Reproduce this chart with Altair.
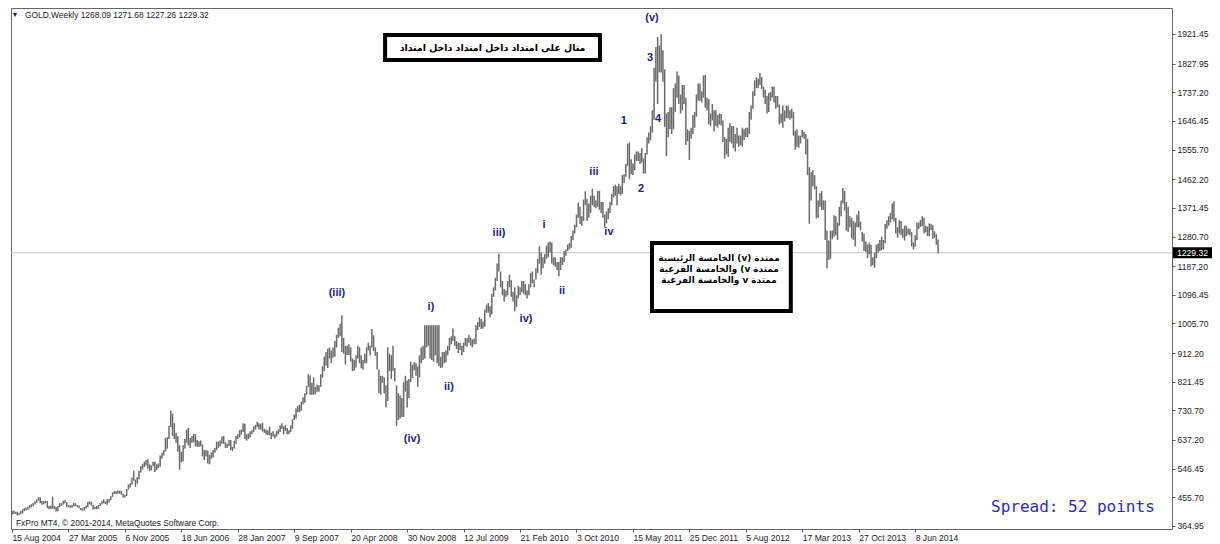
import altair as alt
import pandas as pd

# ---------------- data ----------------
X_LABELS = ["15 Aug 2004", "27 Mar 2005", "6 Nov 2005", "18 Jun 2006", "28 Jan 2007",
            "9 Sep 2007", "20 Apr 2008", "30 Nov 2008", "12 Jul 2009", "21 Feb 2010",
            "3 Oct 2010", "15 May 2011", "25 Dec 2011", "5 Aug 2012", "17 Mar 2013",
            "27 Oct 2013", "8 Jun 2014"]
X_TICK_WEEKS = [32 * i for i in range(len(X_LABELS))]

Y_TICKS = [364.95, 455.70, 546.45, 637.20, 730.70, 821.45, 912.20, 1005.70, 1096.45,
           1187.20, 1280.70, 1371.45, 1462.20, 1555.70, 1646.45, 1737.20, 1827.95, 1921.45]

H_2004 = [412,414,410,410,407,412,418,421,423,426,431,434,438,443,449,456,456,444,443,445]
L_2004 = [400,403,404,398,400,403,405,412,414,416,421,424,428,433,438,445,437,432,434,437]

H_2005 = [444,428,430,458,428,425,428,438,437,445,446,441,431,430,431,438,437,431,430,422,
          421,425,430,442,443,441,431,426,428,431,437,443,449,443,450,451,459,471,475,475,
          477,477,477,467,464,482,496,500,518,540,512,520]
L_2005 = [422,418,419,420,418,411,412,425,429,433,437,425,424,423,423,427,428,425,421,415,
          414,414,420,424,434,429,417,418,418,419,428,433,437,434,432,439,446,457,466,465,
          467,467,464,455,455,460,480,487,495,508,489,499]

H_2006 = [540,555,561,568,574,576,560,557,568,568,560,563,588,597,605,643,646,682,730,720,
          690,660,650,620,600,620,640,670,675,643,650,656,655,637,633,635,622,605,605,603,
          590,598,605,612,632,632,635,648,650,630,625,637,637]
L_2006 = [513,534,544,551,556,546,538,541,554,536,542,548,553,578,588,600,609,640,678,650,
          640,628,600,543,566,570,610,628,620,612,628,630,617,616,615,617,585,573,585,563,
          560,578,582,597,605,612,617,625,625,612,612,618,605]

H_2007 = [615,635,650,655,668,670,690,688,655,658,665,668,680,685,695,690,687,692,672,670,
          668,680,660,665,655,665,670,683,690,680,685,675,668,683,702,718,737,745,748,758,
          772,785,808,845,842,818,835,805,812,810,845,870]
L_2007 = [602,610,625,640,645,654,662,640,635,640,645,655,662,670,678,670,670,664,660,654,
          652,652,640,648,642,648,655,662,672,655,666,655,655,662,672,700,705,725,725,730,
          750,755,780,805,780,780,780,782,790,790,805,834]

H_2008 = [900,915,926,930,920,930,950,970,992,1005,1032,960,935,935,940,930,895,890,905,935,
          930,905,890,910,930,945,935,988,968,930,915,860,840,840,835,810,930,910,905,935,
          865,810,785,778,770,820,840,825,830,885,875,884]
L_2008 = [855,872,865,895,880,897,900,930,960,965,915,910,876,906,906,885,855,857,866,895,
          880,864,860,880,880,920,905,930,918,903,860,786,780,818,785,740,760,855,830,855,
          822,681,700,705,710,710,790,740,770,820,833,858]

H_2009 = [880,870,905,930,935,1000,1000,1000,1000,1000,1000,1000,1000,1000,900,915,915,920,
          935,960,965,990,965,950,945,945,935,945,960,960,970,960,955,958,1000,1010,1025,
          1020,1012,1050,1065,1070,1060,1100,1120,1150,1195,1226,1170,1140,1115,1110]
L_2009 = [840,805,835,880,890,895,930,935,895,890,885,905,880,870,865,866,880,883,905,920,
          940,950,935,925,912,922,905,915,935,932,945,935,930,940,940,985,995,988,990,995,
          1040,1040,1025,1035,1090,1110,1140,1170,1120,1095,1075,1090]

H_2010 = [1140,1160,1142,1105,1120,1095,1125,1120,1140,1140,1130,1110,1130,1165,1170,1145,
          1180,1210,1250,1230,1215,1225,1252,1262,1265,1262,1215,1215,1200,1200,1215,1215,
          1235,1240,1255,1260,1282,1300,1318,1350,1388,1375,1345,1398,1424,1400,1385,1410,
          1432,1410,1395,1425]
L_2010 = [1095,1120,1090,1075,1044,1058,1085,1095,1105,1100,1095,1085,1095,1120,1133,1120,
          1145,1165,1195,1160,1180,1195,1210,1215,1230,1195,1190,1185,1175,1155,1175,1190,
          1200,1220,1235,1240,1245,1270,1290,1310,1340,1320,1315,1330,1380,1330,1340,1355,
          1380,1375,1370,1375]

H_2011 = [1425,1390,1390,1350,1360,1370,1390,1415,1440,1445,1440,1448,1440,1475,1478,1510,
          1575,1578,1525,1512,1540,1550,1550,1545,1560,1528,1545,1595,1610,1630,1680,1815,
          1880,1912,1885,1921,1870,1810,1670,1675,1690,1690,1750,1765,1803,1790,1730,1760,
          1760,1720,1620,1615]
L_2011 = [1365,1355,1340,1310,1322,1335,1355,1380,1405,1410,1380,1415,1410,1415,1450,1470,
          1505,1462,1478,1475,1490,1520,1520,1510,1515,1480,1480,1540,1575,1585,1610,1650,
          1770,1700,1800,1800,1770,1628,1535,1595,1620,1605,1620,1675,1720,1700,1670,1680,
          1700,1570,1582,1523]

H_2012 = [1625,1665,1675,1730,1765,1765,1740,1790,1792,1720,1715,1670,1700,1680,1680,1665,
          1670,1668,1648,1595,1590,1625,1640,1630,1630,1605,1625,1600,1600,1625,1620,1625,
          1625,1675,1695,1740,1775,1785,1780,1798,1785,1755,1745,1725,1735,1738,1755,1755,
          1725,1725,1698,1670,1695]
L_2012 = [1590,1605,1625,1660,1710,1710,1705,1720,1688,1680,1635,1630,1648,1613,1630,1625,
          1635,1632,1580,1527,1540,1532,1580,1575,1560,1550,1575,1565,1570,1565,1585,1595,
          1595,1605,1650,1685,1725,1750,1750,1760,1748,1720,1700,1670,1675,1710,1720,1705,
          1685,1690,1635,1640,1625]

H_2013 = [1680,1695,1695,1680,1685,1675,1615,1620,1600,1600,1618,1612,1605,1590,1500,1485,
          1490,1475,1440,1395,1418,1425,1395,1395,1300,1268,1300,1300,1348,1345,1325,1375,
          1395,1434,1425,1390,1375,1345,1340,1330,1325,1350,1362,1328,1295,1290,1264,1255,
          1261,1255,1215,1230]
L_2013 = [1645,1655,1655,1650,1655,1600,1555,1565,1562,1575,1595,1590,1540,1475,1321,1395,
          1440,1430,1338,1340,1375,1365,1365,1270,1180,1207,1210,1272,1280,1285,1270,1315,
          1345,1385,1363,1300,1295,1310,1275,1270,1250,1310,1310,1300,1265,1235,1232,1212,
          1225,1187,1190,1182]

H_2014 = [1255,1259,1270,1280,1270,1320,1332,1345,1355,1385,1392,1340,1310,1332,1330,1305,
          1315,1315,1306,1305,1295,1262,1285,1325,1325,1333,1345,1340,1315,1312,1322,1320,
          1316,1297,1288,1271.68]
L_2014 = [1212,1230,1235,1238,1240,1260,1305,1315,1325,1335,1328,1290,1277,1290,1285,1277,
          1268,1282,1287,1285,1250,1240,1248,1270,1305,1311,1313,1290,1294,1282,1281,1301,
          1273,1277,1255,1227.26]

LAST_CLOSE = 1229.32
HEADER = "GOLD,Weekly  1268.09 1271.68 1227.26 1229.32"
FOOTER = "FxPro MT4, \u00a9 2001-2014, MetaQuotes Software Corp."
SPREAD = "Spread: 52 points"

WAVE_TEXT = ["(v)", "3", "4", "1", "2", "iii", "iv", "i", "ii", "iii)", "iv)",
             "(iii)", "i)", "ii)", "(iv)"]
WAVE_WEEK = [362.8, 361.7, 366.2, 346.9, 356.6, 329.9, 338.4, 301.6, 311.8, 276.1, 291.4,
             184.2, 237.5, 247.7, 226.8]
WAVE_PRICE = [1972, 1845.5, 1652.5, 1646.2, 1431.1, 1484.9, 1295.1, 1317.2, 1108.4, 1291.9,
              1019.8, 1102.1, 1057.8, 804.7, 640.2]

TITLE_AR = "مثال على امتداد داخل امتداد داخل امتداد"
NOTE_AR = ["الخامسة الرئيسية (v) ممتدة",
           "والخامسة الفرعية (v ممتدة",
           "والخامسة الفرعية v ممتدة"]

# ---------------- layout ----------------
PLOT_W, PLOT_H = 1161, 521
X_DOMAIN = [-0.57, 657.6]
Y_DOMAIN = [355.4, 2003.7]
AXIS_FONT = "Liberation Sans"
NAVY = "#1c1c8c"
LRM = "\u200e"

HIGHS = H_2004 + H_2005 + H_2006 + H_2007 + H_2008 + H_2009 + H_2010 + H_2011 + H_2012 + H_2013 + H_2014
LOWS = L_2004 + L_2005 + L_2006 + L_2007 + L_2008 + L_2009 + L_2010 + L_2011 + L_2012 + L_2013 + L_2014
bars_df = pd.DataFrame({"week": list(range(len(HIGHS))), "high": HIGHS, "low": LOWS})

xs = alt.Scale(domain=X_DOMAIN, nice=False, zero=False)
ys = alt.Scale(domain=Y_DOMAIN, nice=False, zero=False)

label_expr = "[" + ",".join("'%s'" % s for s in X_LABELS) + "][round(datum.value / 32)]"
x_axis = alt.Axis(values=X_TICK_WEEKS, labelExpr=label_expr, orient="bottom", labelAlign="left",
                  tickSize=3, labelPadding=1, labelFont=AXIS_FONT, labelFontSize=8.6,
                  labelColor="#222222", tickColor="#555555", domain=False, grid=False,
                  title=None, labelFlush=False, labelOverlap=False, labelBound=False)
y_axis = alt.Axis(values=Y_TICKS, format=".2f", orient="right", tickSize=3, labelPadding=2,
                  labelFont=AXIS_FONT, labelFontSize=8.6, labelColor="#222222",
                  tickColor="#555555", domain=False, grid=False, title=None,
                  labelFlush=False, labelOverlap=False, labelBound=False, labelBaseline="middle")


def X(field):
    return alt.X(field, scale=xs, axis=x_axis)


def Y(field):
    return alt.Y(field, scale=ys, axis=y_axis)


last_df = pd.DataFrame({"price": [LAST_CLOSE], "label": ["%.2f" % LAST_CLOSE]})

last_line = alt.Chart(last_df).mark_rule(color="#c4c4c4", strokeWidth=1).encode(
    y=Y("price:Q"), x=alt.value(0), x2=alt.value(PLOT_W))

bars = alt.Chart(bars_df).mark_rule(color="#6a6a6a", strokeWidth=1.5).encode(
    x=X("week:Q"), y=Y("low:Q"), y2="high:Q")

tag_bg = alt.Chart(last_df).mark_rule(color="black", strokeWidth=11).encode(
    y=Y("price:Q"), x=alt.value(PLOT_W + 1), x2=alt.value(PLOT_W + 40))
tag_txt = alt.Chart(last_df).mark_text(align="left", baseline="middle", color="white",
                                       font=AXIS_FONT, fontSize=8.6).encode(
    y=Y("price:Q"), x=alt.value(PLOT_W + 5), text="label:N")

wave_df = pd.DataFrame({"t": WAVE_TEXT, "w": WAVE_WEEK, "p": WAVE_PRICE})
waves = alt.Chart(wave_df).mark_text(font="Liberation Sans", fontWeight="bold", fontSize=11,
                                     color=NAVY, align="center", baseline="middle").encode(
    x=X("w:Q"), y=Y("p:Q"), text="t:N")

box_df = pd.DataFrame({"x1": [211.5, 362.8], "x2": [333.3, 441.5],
                       "y1": [1918.3, 1260.3], "y2": [1839.2, 1045.2]})
boxes = alt.Chart(box_df).mark_rect(fill="white", stroke="black", strokeWidth=4).encode(
    x=X("x1:Q"), x2="x2:Q", y=Y("y1:Q"), y2="y2:Q")

title_df = pd.DataFrame({"t": [TITLE_AR], "w": [272.4], "p": [1878.0]})
title_txt = alt.Chart(title_df).mark_text(font="DejaVu Sans", fontWeight="bold", fontSize=9.4,
                                          color="black", align="center", baseline="middle").encode(
    x=X("w:Q"), y=Y("p:Q"), text="t:N")

note_df = pd.DataFrame({"t": [LRM + s for s in NOTE_AR], "w": [400.8, 400.8, 400.8],
                        "p": [1212.8, 1178.0, 1143.2]})
note_txt = alt.Chart(note_df).mark_text(font="DejaVu Sans", fontWeight="bold", fontSize=8.9,
                                        color="black", align="center", baseline="middle").encode(
    x=X("w:Q"), y=Y("p:Q"), text="t:N")

hdr_tri = alt.Chart(pd.DataFrame({"t": ["\u25bc"]})).mark_text(
    fontSize=7, color="#222222", align="center", baseline="middle").encode(
    x=alt.value(4), y=alt.value(7), text="t:N")
hdr = alt.Chart(pd.DataFrame({"t": [HEADER]})).mark_text(
    font=AXIS_FONT, fontSize=8.4, color="#222222", align="left", baseline="middle").encode(
    x=alt.value(14), y=alt.value(7), text="t:N")
ftr = alt.Chart(pd.DataFrame({"t": [FOOTER]})).mark_text(
    font=AXIS_FONT, fontSize=8.4, color="#222222", align="left", baseline="middle").encode(
    x=alt.value(5), y=alt.value(515), text="t:N")
spread = alt.Chart(pd.DataFrame({"t": [SPREAD]})).mark_text(
    font="DejaVu Sans Mono", fontSize=16, color="#2a2ad2", align="left", baseline="middle").encode(
    x=alt.value(980), y=alt.value(499), text="t:N")

chart = alt.layer(last_line, bars, tag_bg, tag_txt, waves, boxes, title_txt, note_txt,
                  hdr_tri, hdr, ftr, spread).properties(
    width=PLOT_W, height=PLOT_H,
    autosize=alt.AutoSizeParams(type="none"),
    padding={"left": 3, "top": 0, "right": 40, "bottom": 15},
    background="white",
).configure_view(stroke="#666666", strokeWidth=1)

chart.save("out.html", embed_options={"renderer": "svg", "actions": False})
